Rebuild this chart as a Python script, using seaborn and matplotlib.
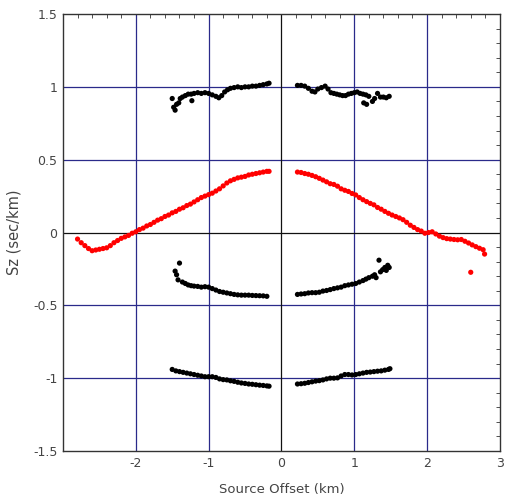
import matplotlib
matplotlib.use("Agg")
import matplotlib.pyplot as plt
import seaborn as sns
import pandas as pd
from matplotlib.ticker import MultipleLocator, FixedLocator

# ---- data ----
red_left_x = [-2.80, -2.75, -2.70, -2.65, -2.60, -2.55, -2.50, -2.45, -2.40, -2.35, -2.30, -2.25, -2.20, -2.15,
              -2.10, -2.05, -2.00, -1.95, -1.90, -1.85, -1.80, -1.75, -1.70, -1.65, -1.60, -1.55, -1.50, -1.45,
              -1.40, -1.35, -1.30, -1.25, -1.20, -1.15, -1.10, -1.05, -1.00, -0.95, -0.90, -0.85, -0.80, -0.75,
              -0.70, -0.65, -0.60, -0.55, -0.50, -0.45, -0.40, -0.35, -0.30, -0.25, -0.20, -0.17]
red_left_y = [-0.045, -0.07, -0.09, -0.11, -0.125, -0.12, -0.115, -0.11, -0.105, -0.09, -0.07, -0.055, -0.04, -0.03,
              -0.02, -0.005, 0.005, 0.02, 0.03, 0.045, 0.055, 0.07, 0.085, 0.095, 0.11, 0.12, 0.135, 0.145,
              0.16, 0.17, 0.185, 0.195, 0.21, 0.225, 0.24, 0.25, 0.26, 0.27, 0.285, 0.30, 0.32, 0.34,
              0.355, 0.365, 0.375, 0.38, 0.385, 0.395, 0.40, 0.405, 0.41, 0.415, 0.42, 0.42]
red_right_x = [0.22, 0.27, 0.32, 0.37, 0.42, 0.47, 0.52, 0.57, 0.62, 0.67, 0.72, 0.77, 0.82, 0.87, 0.92, 0.97,
               1.02, 1.07, 1.12, 1.17, 1.22, 1.27, 1.32, 1.37, 1.42, 1.47, 1.52, 1.57, 1.62, 1.67, 1.72, 1.77,
               1.82, 1.87, 1.92, 1.97, 2.02, 2.07, 2.12, 2.17, 2.22, 2.27, 2.32, 2.37, 2.42, 2.47, 2.52, 2.57,
               2.62, 2.67, 2.72, 2.77, 2.79, 2.60]
red_right_y = [0.415, 0.412, 0.405, 0.40, 0.392, 0.383, 0.372, 0.36, 0.348, 0.335, 0.33, 0.318, 0.30, 0.29,
               0.282, 0.268, 0.258, 0.24, 0.225, 0.212, 0.20, 0.19, 0.172, 0.16, 0.145, 0.132, 0.12, 0.11,
               0.10, 0.088, 0.07, 0.05, 0.035, 0.02, 0.01, -0.005, 0.0, 0.005, -0.01, -0.025, -0.035, -0.042,
               -0.045, -0.048, -0.05, -0.048, -0.06, -0.072, -0.085, -0.097, -0.108, -0.118, -0.148, -0.273]

up_left_x = [-1.50, -1.48, -1.46, -1.44, -1.41, -1.39, -1.36, -1.32, -1.28, -1.23, -1.24, -1.20, -1.15, -1.10,
             -1.05, -1.00, -0.95, -0.90, -0.86, -0.82, -0.78, -0.74, -0.70, -0.65, -0.60, -0.55, -0.50, -0.45,
             -0.40, -0.35, -0.30, -0.25, -0.20, -0.17]
up_left_y = [0.92, 0.86, 0.84, 0.88, 0.89, 0.92, 0.93, 0.94, 0.95, 0.905, 0.95, 0.955, 0.96, 0.955,
             0.96, 0.955, 0.945, 0.935, 0.925, 0.94, 0.965, 0.98, 0.99, 0.995, 1.0, 0.995, 1.0, 1.0,
             1.005, 1.005, 1.01, 1.015, 1.02, 1.025]
up_right_x = [0.22, 0.27, 0.32, 0.37, 0.42, 0.46, 0.50, 0.55, 0.60, 0.64, 0.68, 0.72, 0.76, 0.80, 0.84, 0.88,
              0.92, 0.96, 1.00, 1.04, 1.08, 1.12, 1.16, 1.13, 1.17, 1.20, 1.25, 1.28, 1.32, 1.36, 1.40, 1.44, 1.48]
up_right_y = [1.01, 1.01, 1.005, 0.99, 0.97, 0.965, 0.985, 0.995, 1.005, 0.985, 0.96, 0.955, 0.95, 0.945,
              0.94, 0.94, 0.95, 0.955, 0.96, 0.965, 0.955, 0.95, 0.945, 0.89, 0.88, 0.935, 0.90, 0.92,
              0.955, 0.93, 0.93, 0.925, 0.935]

mid_left_x = [-1.40, -1.46, -1.44, -1.42, -1.36, -1.32, -1.28, -1.24, -1.20, -1.15, -1.10, -1.05, -1.00, -0.95,
              -0.90, -0.85, -0.80, -0.75, -0.70, -0.65, -0.60, -0.55, -0.50, -0.45, -0.40, -0.35, -0.30, -0.25, -0.20]
mid_left_y = [-0.21, -0.265, -0.29, -0.325, -0.34, -0.35, -0.36, -0.365, -0.368, -0.37, -0.375, -0.372, -0.375,
              -0.385, -0.395, -0.405, -0.41, -0.415, -0.42, -0.425, -0.428, -0.43, -0.43, -0.43, -0.432, -0.433,
              -0.434, -0.435, -0.438]
mid_right_x = [0.22, 0.27, 0.32, 0.37, 0.42, 0.47, 0.52, 0.57, 0.62, 0.67, 0.72, 0.77, 0.82, 0.87, 0.92, 0.97,
               1.02, 1.07, 1.12, 1.16, 1.20, 1.25, 1.28, 1.30, 1.34, 1.36, 1.39, 1.42, 1.44, 1.46, 1.48]
mid_right_y = [-0.425, -0.422, -0.42, -0.415, -0.413, -0.413, -0.41, -0.402, -0.398, -0.392, -0.385, -0.38,
               -0.375, -0.365, -0.36, -0.355, -0.35, -0.34, -0.33, -0.32, -0.31, -0.30, -0.29, -0.31, -0.19,
               -0.27, -0.255, -0.24, -0.26, -0.225, -0.24]

low_left_x = [-1.50, -1.45, -1.40, -1.35, -1.30, -1.25, -1.20, -1.15, -1.10, -1.05, -1.00, -0.95, -0.90, -0.85,
              -0.80, -0.75, -0.70, -0.65, -0.60, -0.55, -0.50, -0.45, -0.40, -0.35, -0.30, -0.25, -0.20, -0.17]
low_left_y = [-0.94, -0.95, -0.955, -0.96, -0.965, -0.97, -0.975, -0.98, -0.985, -0.99, -0.99, -0.99, -0.995,
              -1.005, -1.01, -1.012, -1.018, -1.022, -1.028, -1.033, -1.036, -1.04, -1.042, -1.045, -1.048,
              -1.05, -1.053, -1.055]
low_right_x = [0.22, 0.27, 0.32, 0.37, 0.42, 0.47, 0.52, 0.57, 0.62, 0.67, 0.72, 0.77, 0.82, 0.87, 0.92, 0.97,
               1.02, 1.07, 1.12, 1.17, 1.22, 1.27, 1.32, 1.37, 1.42, 1.47, 1.49]
low_right_y = [-1.04, -1.038, -1.035, -1.03, -1.025, -1.02, -1.017, -1.012, -1.005, -1.0, -1.0, -0.998, -0.985,
               -0.975, -0.975, -0.978, -0.975, -0.97, -0.965, -0.96, -0.958, -0.955, -0.952, -0.95, -0.945,
               -0.94, -0.935]

x_ticks = [-2, -1, 0, 1, 2, 3]
x_tick_labels = ["-2", "-1", "0", "1", "2", "3"]
y_ticks = [-1.5, -1, -0.5, 0, 0.5, 1, 1.5]
y_tick_labels = ["-1.5", "-1", "-0.5", "0", "0.5", "1", "1.5"]

# ---- build table ----
frames = []
for name, xs, ys in [("red", red_left_x, red_left_y), ("red", red_right_x, red_right_y),
                     ("black", up_left_x, up_left_y), ("black", up_right_x, up_right_y),
                     ("black", mid_left_x, mid_left_y), ("black", mid_right_x, mid_right_y),
                     ("black", low_left_x, low_left_y), ("black", low_right_x, low_right_y)]:
    frames.append(pd.DataFrame({"x": xs, "y": ys, "series": name}))
df = pd.concat(frames, ignore_index=True)

sns.set_style("white")
plt.rcParams["font.family"] = ["DejaVu Sans"]

fig = plt.figure(figsize=(5.08, 5.01), dpi=100)
ax = fig.add_axes([0.124, 0.0998, 0.86, 0.8722])

grid_c = "#2a2a8a"
for gx in [-2, -1, 1, 2]:
    ax.axvline(gx, color=grid_c, lw=0.9, zorder=0)
for gy in [-1, -0.5, 0.5, 1]:
    ax.axhline(gy, color=grid_c, lw=0.9, zorder=0)
ax.axvline(0, color="#111111", lw=0.9, zorder=0)
ax.axhline(0, color="#111111", lw=0.9, zorder=0)

sns.scatterplot(data=df, x="x", y="y", hue="series", palette={"red": "#ff0000", "black": "#000000"},
                s=14, linewidth=0, marker="o", legend=False, ax=ax, zorder=3)

ax.set_xlim(-3, 3)
ax.set_ylim(-1.5, 1.5)
ax.xaxis.set_major_locator(FixedLocator(x_ticks))
ax.set_xticklabels(x_tick_labels)
ax.yaxis.set_major_locator(FixedLocator(y_ticks))
ax.set_yticklabels(y_tick_labels)
ax.xaxis.set_minor_locator(MultipleLocator(0.2))
ax.yaxis.set_minor_locator(MultipleLocator(0.1))
ax.tick_params(which="both", direction="in", top=True, right=True, labeltop=False, labelright=False,
               colors="#333333", labelcolor="#444444", labelsize=9)
ax.tick_params(which="major", length=0, pad=4)
ax.tick_params(which="minor", length=3, width=0.6)

for sp in ax.spines.values():
    sp.set_color("#333333")
    sp.set_linewidth(1.0)

ax.set_xlabel("Source Offset (km)", fontsize=9.5, color="#444444", labelpad=10)
ax.set_ylabel("Sz (sec/km)", fontsize=10.5, color="#444444", labelpad=8)

fig.savefig("out.png", dpi=100, facecolor="white")
